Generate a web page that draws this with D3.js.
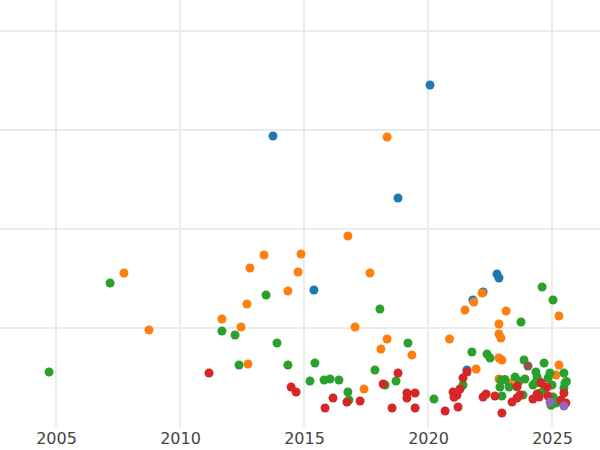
<!DOCTYPE html>
<html>
<head>
<meta charset="utf-8">
<script src="https://cdn.jsdelivr.net/npm/d3@7"></script>
<style>
  html, body { margin: 0; padding: 0; background: #fff; }
  svg { display: block; }
</style>
</head>
<body>
<svg id="chart" width="600" height="450"></svg>
<script>
// ---- data (year, value) ----
const seriesNames = ["A", "B", "C", "D", "E", "F"];
const seriesColors = ["#1f77b4", "#ff7f0e", "#2ca02c", "#d62728", "#9467bd", "#8c564b"];
const xTicks = [2005, 2010, 2015, 2020, 2025];
const yGrid = [100, 200, 300, 400];

const seriesA = [
  [2020.08, 345.5], [2013.75, 293.9], [2018.79, 231.3], [2015.40, 138.4],
  [2021.81, 128.3], [2022.22, 136.4], [2022.78, 154.5], [2022.86, 150.5],
  [2021.57, 57.6]
];
const seriesB = [
  [2007.74, 155.6], [2008.75, 98.0], [2011.69, 109.1], [2012.46, 101.0],
  [2012.74, 63.6], [2012.70, 124.2], [2012.82, 160.6], [2013.39, 173.7],
  [2014.35, 137.4], [2014.76, 156.6], [2014.88, 174.7], [2016.77, 192.9],
  [2018.35, 292.9], [2017.66, 155.6], [2017.06, 101.0], [2018.35, 88.9],
  [2018.10, 78.8], [2019.35, 72.7], [2017.42, 38.4], [2020.87, 88.9],
  [2021.49, 118.2], [2021.85, 126.3], [2022.18, 135.4], [2023.15, 117.2],
  [2022.86, 104.0], [2022.86, 93.9], [2022.94, 89.9], [2022.86, 69.7],
  [2022.98, 67.7], [2021.94, 58.6], [2025.28, 112.1], [2025.28, 62.6],
  [2025.16, 52.5], [2022.86, 48.5], [2023.27, 44.4], [2023.62, 30.0]
];
const seriesC = [
  [2004.72, 55.6], [2007.18, 145.5], [2011.69, 97.0], [2012.22, 92.9],
  [2012.38, 62.6], [2013.47, 133.3], [2013.91, 84.8], [2014.35, 62.6],
  [2015.44, 64.6], [2015.24, 46.5], [2015.81, 47.5], [2016.05, 48.5],
  [2016.41, 47.5], [2016.77, 35.4], [2016.81, 27.3], [2018.06, 119.2],
  [2017.86, 57.6], [2018.27, 42.4], [2018.71, 46.5], [2019.19, 84.8],
  [2020.24, 28.3], [2021.77, 75.8], [2021.41, 42.4], [2022.38, 73.7],
  [2022.50, 69.7], [2023.75, 106.1], [2024.60, 141.4], [2025.04, 128.3],
  [2023.87, 67.7], [2024.68, 64.6], [2022.94, 47.5], [2022.90, 40.4],
  [2022.98, 31.3], [2023.27, 40.4], [2023.51, 50.5], [2023.67, 46.5],
  [2023.91, 48.5], [2024.35, 55.6], [2024.23, 42.4], [2024.52, 45.5],
  [2024.40, 50.5], [2024.84, 49.5], [2024.92, 54.5], [2025.00, 42.4],
  [2025.04, 30.3], [2025.16, 24.2], [2024.52, 34.3], [2025.48, 54.5],
  [2025.52, 44.4], [2025.48, 39.4], [2023.59, 40.4], [2024.32, 44.4],
  [2023.83, 32.3], [2024.96, 22.0], [2025.58, 46.0], [2024.70, 38.0],
  [2023.10, 48.0]
];
const seriesD = [
  [2011.17, 54.5], [2014.48, 40.4], [2014.68, 35.4], [2015.85, 19.2],
  [2016.17, 29.3], [2016.73, 25.3], [2017.26, 26.3], [2018.19, 43.4],
  [2018.55, 19.2], [2018.79, 54.5], [2019.15, 34.3], [2019.15, 29.3],
  [2019.48, 34.3], [2019.48, 19.2], [2020.69, 16.2], [2021.21, 20.2],
  [2021.01, 35.4], [2021.17, 32.3], [2021.29, 38.4], [2021.41, 49.5],
  [2021.57, 55.6], [2022.22, 30.3], [2022.34, 33.3], [2022.70, 31.3],
  [2022.98, 14.1], [2023.39, 25.3], [2023.59, 29.3], [2023.71, 32.3],
  [2023.59, 41.4], [2024.23, 28.3], [2024.40, 33.3], [2024.56, 44.4],
  [2024.80, 40.4], [2024.48, 30.3], [2024.84, 31.3], [2025.36, 27.3],
  [2025.48, 34.3], [2025.56, 24.2], [2021.05, 30.0]
];
const seriesE = [
  [2024.92, 25.3], [2025.48, 21.2]
];
const seriesF = [
  [2024.03, 61.6]
];
const allSeries = [seriesA, seriesB, seriesC, seriesD, seriesE, seriesF];

// ---- chart ----
const W = 600, H = 450;
const plot = { left: 0, right: 600, top: 0, bottom: 427 };

const x = d3.scaleLinear().domain([2002.742, 2026.935]).range([plot.left, plot.right]);
const y = d3.scaleLinear().domain([0, 431.3]).range([plot.bottom, plot.top]);

const svg = d3.select("#chart");

// gridlines
svg.append("g")
  .selectAll("line.v")
  .data(xTicks)
  .join("line")
  .attr("x1", d => x(d)).attr("x2", d => x(d))
  .attr("y1", plot.top).attr("y2", plot.bottom)
  .attr("stroke", "#ebebeb").attr("stroke-width", 2);

svg.append("g")
  .selectAll("line.h")
  .data(yGrid)
  .join("line")
  .attr("x1", plot.left).attr("x2", plot.right)
  .attr("y1", d => y(d)).attr("y2", d => y(d))
  .attr("stroke", "#ebebeb").attr("stroke-width", 2);

// x axis labels
const xAxis = d3.axisBottom(x).tickValues(xTicks).tickFormat(d3.format("d")).tickSize(0).tickPadding(6);
const gx = svg.append("g").attr("transform", `translate(0,${plot.bottom})`).call(xAxis);
gx.select(".domain").remove();
gx.selectAll("text")
  .attr("fill", "#444")
  .style("font-family", "DejaVu Sans, sans-serif")
  .style("font-size", "16px");

// points
allSeries.forEach((s, i) => {
  svg.append("g")
    .selectAll("circle")
    .data(s)
    .join("circle")
    .attr("cx", d => x(d[0]))
    .attr("cy", d => y(d[1]))
    .attr("r", 4.5)
    .attr("fill", seriesColors[i]);
});
</script>
</body>
</html>
